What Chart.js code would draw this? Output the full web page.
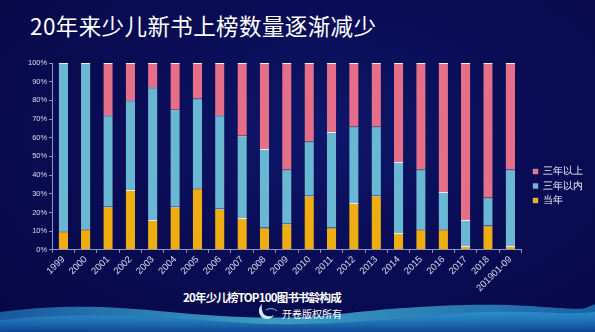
<head>
	<title>少儿榜书龄构成</title>
	<script src="https://cdn.jsdelivr.net/npm/chart.js"></script>

	<style>
		body {
			margin: 0;
			width: 595px;
			height: 332px;
			overflow: hidden;
			position: relative;
			font-family: 'Noto Sans CJK SC', 'Noto Sans', sans-serif;
			background: radial-gradient( ellipse at 55% 40%, #0e176a 0%, #0a0d55 45%, #060845 100% );
		}

		.waves {
			position: absolute;
			left: 0;
			bottom: 0;
		}

		.title {
			position: absolute;
			left: 30px;
			top: 9px;
			color: #fff;
			font-size: 22.5px;
			letter-spacing: 0.4px;
		}

		.caption {
			position: absolute;
			left: 183px;
			top: 289px;
			color: #fff;
			font-size: 11.5px;
			font-weight: bold;
			letter-spacing: -0.8px;
		}

		.credit {
			position: absolute;
			left: 282px;
			top: 306px;
			color: #fff;
			font-size: 10px;
		}

		.logo {
			position: absolute;
			left: 256px;
			top: 302px;
		}

		.chart {
			position: absolute;
			left: 0;
			top: 0;
			width: 595px;
			height: 332px;
		}
	</style>
</head>

<body>
	<svg class="waves" width="595" height="40" viewBox="0 0 595 40">
		<defs>
			<linearGradient id="wave-a" x1="0" y1="0" x2="1" y2="0">
				<stop offset="0" stop-color="#1d6cb5" />
				<stop offset="0.45" stop-color="#47c1e0" />
				<stop offset="1" stop-color="#1f78be" />
			</linearGradient>
			<linearGradient id="wave-b" x1="0" y1="0" x2="0" y2="1">
				<stop offset="0" stop-color="#2f9ad6" stop-opacity="0.7" />
				<stop offset="1" stop-color="#0d4592" />
			</linearGradient>
		</defs>
		<path d="M0 20 C 60 12, 110 14, 170 20 S 290 28, 340 22 S 470 10, 530 14 S 580 18, 595 12 L 595 40 L 0 40 Z" fill="url(#wave-a)" opacity="0.8" />
		<path d="M0 28 C 80 20, 150 24, 230 30 S 380 28, 450 22 S 560 24, 595 20 L 595 40 L 0 40 Z" fill="url(#wave-b)" />
	</svg>

	<svg class="logo" width="24" height="20" viewBox="0 0 24 20">
		<path d="M6 2 C 1 6, 2 16, 10 17 C 14 17.5, 17 15, 18 13 C 15 15, 9 15, 7 11 C 5.5 8, 5.5 4, 6 2 Z" fill="#cfeaf6" />
		<path d="M10 8 C 13 6, 18 6, 21 9" stroke="#7fc9e6" stroke-width="1" fill="none" />
	</svg>

	<div class="title">20年来少儿新书上榜数量逐渐减少</div>
	<div class="caption">20年少儿榜TOP100图书书龄构成</div>
	<div class="credit">开卷版权所有</div>

	<div class="chart">
		<canvas id="myChart"></canvas>
	</div>

	<script>
		// share of each year's top 100, in percent
		var years = [ '1999', '2000', '2001', '2002', '2003', '2004', '2005', '2006', '2007', '2008', '2009',
			'2010', '2011', '2012', '2013', '2014', '2015', '2016', '2017', '2018', '201901-09' ];
		var sameYear = [ 10, 11, 23, 32, 16, 23, 33, 22, 17, 12, 14, 29, 12, 25, 29, 9, 11, 11, 2, 13, 2 ];
		var withinThree = [ 90, 89, 49, 48, 71, 52, 48, 50, 44, 42, 29, 29, 51, 41, 37, 38, 32, 20, 14, 15, 41 ];
		var overThree = [ 0, 0, 28, 20, 13, 25, 19, 28, 39, 46, 57, 42, 37, 34, 34, 53, 57, 69, 84, 72, 57 ];
		var yTicks = [ 0, 10, 20, 30, 40, 50, 60, 70, 80, 90, 100 ];

		var axisColor = '#8e97c8';
		var textColor = '#d8dcf0';
		var legendGap = 7;

		function series( label, data, color ) {
			return {
				label: label,
				data: data,
				backgroundColor: color,
				borderColor: '#e8ecf6',
				borderWidth: { top: 1, bottom: 0, left: 0, right: 0 },
				borderSkipped: false,
				barPercentage: 0.42,
				categoryPercentage: 1
			};
		}

		// keep a gap between the plot and the legend without moving the legend
		var legendShift = {
			id: 'legendShift',
			afterLayout: function( chart ) {
				chart.legend.left += legendGap;
				chart.legend.right += legendGap;
			}
		};

		new Chart( document.getElementById( 'myChart' ), {
			type: 'bar',
			data: {
				labels: years,
				datasets: [
					series( '当年', sameYear, '#eeae12' ),
					series( '三年以内', withinThree, '#69b7d3' ),
					series( '三年以上', overThree, '#e56e89' )
				]
			},
			plugins: [ legendShift ],
			options: {
				responsive: true,
				maintainAspectRatio: false,
				animation: false,
				layout: {
					padding: { left: 26, right: 2 + legendGap, top: 63, bottom: 37 }
				},
				scales: {
					x: {
						stacked: true,
						grid: {
							offset: true,
							drawOnChartArea: false,
							color: axisColor,
							tickLength: 3
						},
						border: { color: axisColor },
						ticks: {
							color: textColor,
							font: { size: 9.5, family: 'Liberation Sans' },
							maxRotation: 45,
							minRotation: 45,
							padding: 1,
							autoSkip: false
						}
					},
					y: {
						stacked: true,
						min: 0,
						max: 100,
						afterBuildTicks: function( axis ) {
							axis.ticks = yTicks.map( function( v ) { return { value: v }; } );
						},
						grid: {
							drawOnChartArea: false,
							color: axisColor,
							tickLength: 3
						},
						border: { color: axisColor },
						ticks: {
							color: textColor,
							font: { size: 7.5, family: 'Liberation Sans' },
							padding: 2,
							callback: function( v ) { return v + '%'; }
						}
					}
				},
				plugins: {
					tooltip: { enabled: false },
					legend: {
						position: 'right',
						align: 'center',
						reverse: true,
						title: {
							display: true,
							text: ' ',
							font: { size: 10 },
							padding: 1
						},
						labels: {
							color: '#eef0fa',
							boxWidth: 5,
							boxHeight: 5,
							padding: 4.5,
							font: { size: 10 }
						}
					}
				}
			}
		});
	</script>
</body>
